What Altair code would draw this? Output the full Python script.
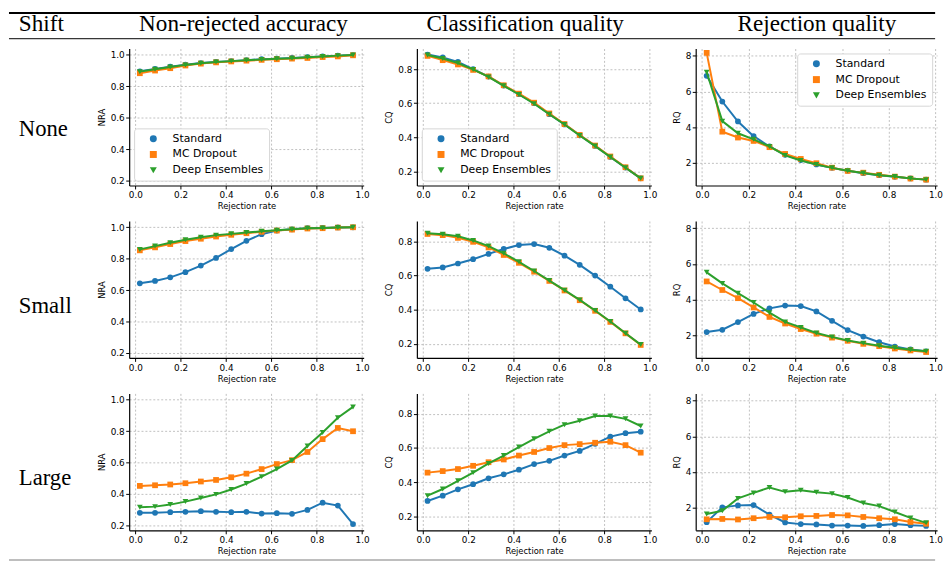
import altair as alt
import pandas as pd

# ---------------- data ----------------
rejection_rate = [0.02, 0.087, 0.154, 0.221, 0.289, 0.356, 0.423, 0.49,
                  0.557, 0.624, 0.691, 0.759, 0.826, 0.893, 0.96]
methods = ["Standard", "MC Dropout", "Deep Ensembles"]
shifts = ["None", "Small", "Large"]
metrics = ["NRA", "CQ", "RQ"]
headers = ["Shift", "Non-rejected accuracy", "Classification quality", "Rejection quality"]

# Shift: None
nra_none_std = [0.895, 0.91, 0.925, 0.937, 0.948, 0.955, 0.96, 0.966, 0.972, 0.976, 0.98, 0.985, 0.99, 0.995, 0.999]
nra_none_mc = [0.883, 0.9, 0.915, 0.932, 0.944, 0.952, 0.958, 0.963, 0.968, 0.972, 0.976, 0.98, 0.986, 0.99, 0.997]
nra_none_de = [0.893, 0.908, 0.922, 0.936, 0.947, 0.954, 0.96, 0.965, 0.971, 0.975, 0.979, 0.984, 0.99, 0.995, 0.999]
cq_none_std = [0.885, 0.868, 0.842, 0.80, 0.756, 0.703, 0.653, 0.60, 0.536, 0.476, 0.412, 0.35, 0.285, 0.223, 0.16]
cq_none_mc = [0.877, 0.852, 0.827, 0.795, 0.757, 0.705, 0.656, 0.603, 0.54, 0.478, 0.414, 0.352, 0.288, 0.225, 0.16]
cq_none_de = [0.882, 0.862, 0.835, 0.798, 0.754, 0.702, 0.651, 0.597, 0.535, 0.475, 0.411, 0.349, 0.285, 0.222, 0.16]
rq_none_std = [6.88, 5.44, 4.32, 3.5, 2.92, 2.45, 2.16, 1.91, 1.72, 1.56, 1.42, 1.31, 1.22, 1.13, 1.06]
rq_none_mc = [8.17, 3.75, 3.42, 3.23, 2.88, 2.5, 2.22, 1.98, 1.73, 1.55, 1.45, 1.33, 1.23, 1.12, 1.06]
rq_none_de = [7.08, 4.34, 3.66, 3.32, 2.92, 2.42, 2.13, 1.91, 1.72, 1.56, 1.43, 1.31, 1.23, 1.12, 1.06]

# Shift: Small
nra_small_std = [0.643, 0.658, 0.681, 0.714, 0.756, 0.805, 0.861, 0.914, 0.956, 0.979, 0.987, 0.994, 0.996, 0.999, 1.0]
nra_small_mc = [0.853, 0.872, 0.893, 0.912, 0.927, 0.941, 0.952, 0.962, 0.971, 0.979, 0.985, 0.992, 0.994, 0.998, 1.0]
nra_small_de = [0.859, 0.88, 0.901, 0.92, 0.937, 0.95, 0.958, 0.966, 0.975, 0.981, 0.987, 0.994, 0.996, 0.999, 1.0]
cq_small_std = [0.64, 0.648, 0.671, 0.696, 0.727, 0.756, 0.779, 0.785, 0.763, 0.717, 0.663, 0.60, 0.535, 0.467, 0.402]
cq_small_mc = [0.844, 0.837, 0.821, 0.798, 0.765, 0.721, 0.675, 0.623, 0.569, 0.513, 0.456, 0.394, 0.329, 0.262, 0.194]
cq_small_de = [0.848, 0.842, 0.831, 0.806, 0.773, 0.731, 0.681, 0.627, 0.571, 0.515, 0.458, 0.396, 0.331, 0.263, 0.196]
rq_small_std = [2.18, 2.31, 2.74, 3.2, 3.51, 3.67, 3.64, 3.34, 2.81, 2.29, 1.93, 1.61, 1.37, 1.21, 1.1]
rq_small_mc = [5.02, 4.54, 4.08, 3.56, 3.03, 2.66, 2.35, 2.09, 1.87, 1.69, 1.52, 1.39, 1.26, 1.15, 1.06]
rq_small_de = [5.53, 4.91, 4.36, 3.84, 3.27, 2.75, 2.44, 2.13, 1.91, 1.71, 1.56, 1.41, 1.3, 1.19, 1.1]

# Shift: Large
nra_large_std = [0.28, 0.28, 0.284, 0.286, 0.29, 0.286, 0.284, 0.286, 0.275, 0.277, 0.273, 0.298, 0.344, 0.326, 0.208]
nra_large_mc = [0.451, 0.455, 0.46, 0.468, 0.479, 0.489, 0.506, 0.529, 0.558, 0.59, 0.615, 0.667, 0.749, 0.82, 0.799]
nra_large_de = [0.315, 0.319, 0.332, 0.351, 0.374, 0.397, 0.428, 0.466, 0.51, 0.558, 0.613, 0.705, 0.791, 0.885, 0.954]
cq_large_std = [0.29, 0.321, 0.358, 0.388, 0.423, 0.446, 0.473, 0.506, 0.525, 0.556, 0.583, 0.625, 0.667, 0.687, 0.696]
cq_large_mc = [0.456, 0.465, 0.477, 0.496, 0.517, 0.533, 0.556, 0.577, 0.6, 0.617, 0.623, 0.631, 0.637, 0.617, 0.573]
cq_large_de = [0.321, 0.36, 0.408, 0.456, 0.51, 0.556, 0.606, 0.654, 0.698, 0.737, 0.76, 0.788, 0.788, 0.771, 0.729]
rq_large_std = [1.19, 2.02, 2.13, 2.15, 1.61, 1.17, 1.08, 1.06, 1.0, 1.0, 0.98, 1.02, 1.08, 1.02, 0.98]
rq_large_mc = [1.35, 1.37, 1.34, 1.41, 1.48, 1.46, 1.52, 1.54, 1.59, 1.57, 1.48, 1.41, 1.35, 1.2, 1.1]
rq_large_de = [1.65, 1.83, 2.52, 2.83, 3.13, 2.89, 2.98, 2.87, 2.79, 2.57, 2.26, 2.09, 1.76, 1.43, 1.15]

series = {
    ("None", "NRA"): [nra_none_std, nra_none_mc, nra_none_de],
    ("None", "CQ"): [cq_none_std, cq_none_mc, cq_none_de],
    ("None", "RQ"): [rq_none_std, rq_none_mc, rq_none_de],
    ("Small", "NRA"): [nra_small_std, nra_small_mc, nra_small_de],
    ("Small", "CQ"): [cq_small_std, cq_small_mc, cq_small_de],
    ("Small", "RQ"): [rq_small_std, rq_small_mc, rq_small_de],
    ("Large", "NRA"): [nra_large_std, nra_large_mc, nra_large_de],
    ("Large", "CQ"): [cq_large_std, cq_large_mc, cq_large_de],
    ("Large", "RQ"): [rq_large_std, rq_large_mc, rq_large_de],
}

records = []
for (sh, met), vals in series.items():
    for m, ys in zip(methods, vals):
        for r, v in zip(rejection_rate, ys):
            records.append({"shift": sh, "metric": met, "method": m, "rate": r, "value": v})
df = pd.DataFrame(records)

# ---------------- styling ----------------
COLORS = ["#1f77b4", "#ff7f0e", "#2ca02c"]
SHAPES = ["circle", "square", "triangle-down"]
X_DOMAIN = [-0.027, 1.007]
Y_DOMAIN = {"NRA": [0.168, 1.04], "CQ": [0.118, 0.92], "RQ": [0.73, 8.41]}
Y_TICKS = {"NRA": [0.2, 0.4, 0.6, 0.8, 1.0], "CQ": [0.2, 0.4, 0.6, 0.8], "RQ": [2, 4, 6, 8]}
Y_FMT = {"NRA": ".1f", "CQ": ".1f", "RQ": "d"}
PANEL_W = {"NRA": 238, "CQ": 238, "RQ": 245}
PANEL_H = 139
LEGEND_ORIENT = {"NRA": "bottom-left", "CQ": "bottom-left", "RQ": "top-right"}
SERIF = "Liberation Serif"


def panel(sh, met, show_legend):
    d = df[(df["shift"] == sh) & (df["metric"] == met)]
    base = alt.Chart(d)
    if show_legend:
        leg = alt.Legend(title=None, orient=LEGEND_ORIENT[met], offset=5,
                         fillColor="white", strokeColor="#d5d5d5", cornerRadius=3,
                         padding=5, labelFont="DejaVu Sans", labelFontSize=11,
                         labelColor="#000", symbolSize=50, symbolOffset=9,
                         labelOffset=14, rowPadding=4, symbolStrokeWidth=0)
    else:
        leg = None
    xenc = alt.X("rate:Q",
                 scale=alt.Scale(domain=X_DOMAIN, nice=False, zero=False),
                 axis=alt.Axis(values=[0, 0.2, 0.4, 0.6, 0.8, 1.0], format=".1f",
                               title="Rejection rate"))
    yenc = alt.Y("value:Q",
                 scale=alt.Scale(domain=Y_DOMAIN[met], nice=False, zero=False),
                 axis=alt.Axis(values=Y_TICKS[met], format=Y_FMT[met], title=met))
    color = alt.Color("method:N", scale=alt.Scale(domain=methods, range=COLORS), legend=leg)
    shape = alt.Shape("method:N", scale=alt.Scale(domain=methods, range=SHAPES), legend=leg)
    layers = []
    for m in methods:
        b = base.transform_filter(alt.datum.method == m)
        layers.append(b.mark_line(strokeWidth=2).encode(x=xenc, y=yenc, color=color))
        layers.append(b.mark_point(filled=True, size=34, opacity=1).encode(
            x=xenc, y=yenc, color=color, shape=shape))
    return alt.layer(*layers).properties(width=PANEL_W[met], height=PANEL_H)


LABEL_Y = {"None": 82, "Small": 86, "Large": 86}


def row_label(sh):
    return alt.Chart(pd.DataFrame({"t": [sh]})).mark_text(
        align="left", baseline="middle", font=SERIF, fontSize=23, color="black"
    ).encode(text="t:N", x=alt.value(10), y=alt.value(LABEL_Y[sh])).properties(
        width=78, height=PANEL_H)


rows = []
for i, sh in enumerate(shifts):
    panels = alt.hconcat(*[panel(sh, met, i == 0) for met in metrics], spacing=15
                         ).resolve_legend(color="independent", shape="independent")
    rows.append(alt.hconcat(row_label(sh), panels, spacing=11
                            ).resolve_legend(color="independent", shape="independent"))

TOTAL_W = 940
HEADER_X = [10, 238, 524, 820]
HEADER_ALIGN = ["left", "center", "center", "center"]

hdr_layers = []
for h, hx, ha in zip(headers, HEADER_X, HEADER_ALIGN):
    hdr_layers.append(alt.Chart(pd.DataFrame({"t": [h]})).mark_text(
        align=ha, baseline="middle", font=SERIF, fontSize=23.5, color="black"
    ).encode(text="t:N", x=alt.value(hx), y=alt.value(12)))
rule_src = pd.DataFrame({"a": [0]})
hdr_layers.append(alt.Chart(rule_src).mark_rule(color="black", strokeWidth=2).encode(
    x=alt.value(0), x2=alt.value(TOTAL_W), y=alt.value(1)))
hdr_layers.append(alt.Chart(rule_src).mark_rule(color="black", strokeWidth=1).encode(
    x=alt.value(0), x2=alt.value(TOTAL_W), y=alt.value(27)))
header = alt.layer(*hdr_layers).properties(width=TOTAL_W, height=28)

footer = alt.Chart(rule_src).mark_rule(color="#a8a8a8", strokeWidth=1.5).encode(
    x=alt.value(0), x2=alt.value(TOTAL_W), y=alt.value(1)).properties(width=TOTAL_W, height=2)

body = alt.vconcat(*rows, spacing=11).resolve_legend(color="independent", shape="independent")
top = alt.vconcat(header, body, spacing=9).resolve_legend(color="independent", shape="independent")
chart = alt.vconcat(top, footer, spacing=4).resolve_legend(
    color="independent", shape="independent"
).properties(
    padding={"left": 0, "top": 0, "right": 0, "bottom": 0}
).configure_view(stroke=None).configure_axis(
    domainColor="black", domainWidth=1.2, tickColor="black", tickSize=3.5, tickWidth=1,
    labelFont="DejaVu Sans", labelFontSize=9, labelColor="#000", labelPadding=1.5,
    titleFont="DejaVu Sans", titleFontSize=8.5, titleFontWeight="normal", titleColor="#000",
    gridColor="#b0b0b0", gridDash=[2, 2], gridWidth=0.8, labelFlush=False,
).configure_axisX(titlePadding=2, labelPadding=2).configure_axisY(titlePadding=4)

chart.save("out.html", embed_options={"renderer": "svg", "actions": False})
